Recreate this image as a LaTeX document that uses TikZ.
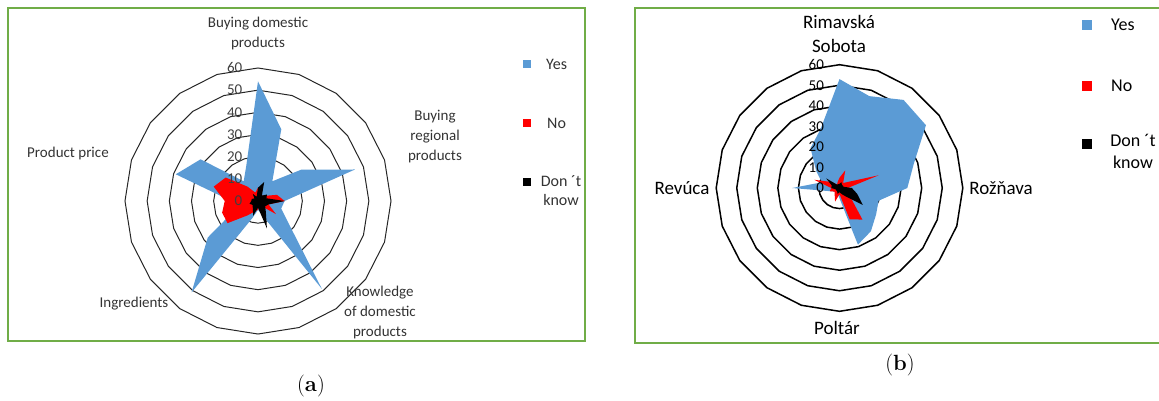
\documentclass[tikz,border=0pt]{standalone}
\usepackage{fontspec}
\newfontfamily\calibri{Carlito}
\usepackage{tikz}

\definecolor{yesblue}{HTML}{5B9BD5}
\definecolor{nored}{HTML}{FF0000}
\definecolor{framegreen}{HTML}{70AD47}

\tikzset{
	frame/.style={framegreen, line width=1.6pt},
	ringa/.style={black!85, line width=1pt},
	ringb/.style={black, line width=1.5pt},
	catlbla/.style={font=\calibri\fontsize{15}{20}\selectfont, text=black!80, align=center, inner sep=0pt},
	catlblb/.style={font=\calibri\fontsize{19}{23.3}\selectfont, text=black, align=center, inner sep=0pt},
	ticka/.style={font=\calibri\fontsize{15}{15}\selectfont, text=black!75, anchor=east, inner sep=0pt},
	tickb/.style={font=\calibri\fontsize{15}{15}\selectfont, text=black, anchor=east, inner sep=0pt},
	legbox/.style={minimum size=#1, inner sep=0pt, draw=none},
	legtxta/.style={font=\calibri\fontsize{16}{19}\selectfont, text=black!80, align=center, inner sep=0pt},
	legtxtb/.style={font=\calibri\fontsize{18}{22}\selectfont, text=black, align=center, inner sep=0pt},
}

\begin{document}
\begin{tikzpicture}[x=1pt, y=-1pt]
	\useasboundingbox (0,0) rectangle (1159,400);

	% (a) frame and chart
	\draw[frame] (8,8) rectangle (585,341);
	\begin{scope}[shift={(258,201)}, x=2.217pt, y=2.217pt]
		\foreach \r in {10,20,...,60}
			\draw[ringa] (90:\r) \foreach \k in {1,...,19} {-- (90-18*\k:\r)} -- cycle;
		\fill[yesblue] (90:54) \foreach \v [count=\i] in {34,11,24,46,12,11,17,49,7,4,8,51,28,10,12,39,32,11,17} {-- (90-18*\i:\v)} -- cycle;
		\fill[nored] (90:6) \foreach \v [count=\i] in {3,3,4,9,12,5,10,3,2,4,5,8,17,17,15,21,18,8,4} {-- (90-18*\i:\v)} -- cycle;
		\fill[black] (90:6) \foreach \v [count=\i] in {9,3,5,4,12,5,4,6,13,3,7,4,3,4,3,3,2,4,2} {-- (90-18*\i:\v)} -- cycle;
		\foreach \r in {0,10,...,60}
			\node[ticka] (ta\r) at (-7,\r) {\r};
	\end{scope}
	\node[catlbla] (bdp) at (258,33) {Buying domestic\\products};
	\node[catlbla] (brp) at (435,137) {Buying\\regional\\products};
	\node[catlbla] (kdp) at (380,312) {Knowledge\\of domestic\\products};
	\node[catlbla] (ingr) at (134,304) {Ingredients};
	\node[catlbla] (pprice) at (68,153) {Product price};
	% legend (a)
	\node[legbox=8pt, fill=yesblue] (kya) at (527,64) {};
	\node[legbox=8pt, fill=nored] (kna) at (527,123) {};
	\node[legbox=8pt, fill=black] (kda) at (527,182) {};
	\node[legtxta, anchor=west] (lya) at (546,64) {Yes};
	\node[legtxta, anchor=west] (lna) at (547,123) {No};
	\node[legtxta] (lda) at (561,191) {Don ´t\\know};
	\node[font=\fontsize{22}{26}\selectfont] (capa) at (311,386) {(\textbf{a})};

	% (b) frame and chart
	\draw[frame] (635,8) rectangle (1175,343);
	\begin{scope}[shift={(839.5,188)}, x=2.055pt, y=2.055pt]
		\foreach \r in {10,20,...,60}
			\draw[ringb] (90:\r) \foreach \k in {1,...,19} {-- (90-18*\k:\r)} -- cycle;
		\fill[yesblue] (90:53) \foreach \v [count=\i] in {47,53,52,38,33,20,22,26,29,5,3,3,3,5,23,9,14,24,30} {-- (90-18*\i:\v)} -- cycle;
		\fill[nored] (90:5) \foreach \v [count=\i] in {9,3,5,20,4,3,6,19,16,3,7,4,3,5,4,13,5,2,3} {-- (90-18*\i:\v)} -- cycle;
		\fill[black] (90:2) \foreach \v [count=\i] in {3,2,2,2,6,9,14,5,3,2,3,2,2,2,4,4,8,2,2} {-- (90-18*\i:\v)} -- cycle;
		\foreach \r in {0,10,...,60}
			\node[tickb] (tb\r) at (-7.5,\r) {\r};
	\end{scope}
	\node[catlblb] (rsob) at (839,34) {Rimavská\\Sobota};
	\node[catlblb] (rozn) at (1001,188) {Rožňava};
	\node[catlblb] (polt) at (837,328) {Poltár};
	\node[catlblb] (revu) at (682,188) {Revúca};
	% legend (b)
	\node[legbox=10pt, fill=yesblue] (kyb) at (1087,25) {};
	\node[legbox=10pt, fill=nored] (knb) at (1087,86) {};
	\node[legbox=10pt, fill=black] (kdb) at (1087,144) {};
	\node[legtxtb, anchor=west] (lyb) at (1111,25) {Yes};
	\node[legtxtb, anchor=west] (lnb) at (1111,86) {No};
	\node[legtxtb] (ldb) at (1133,151) {Don ´t\\know};
	\node[font=\fontsize{22}{26}\selectfont] (capb) at (900,365) {(\textbf{b})};
\end{tikzpicture}
\end{document}
